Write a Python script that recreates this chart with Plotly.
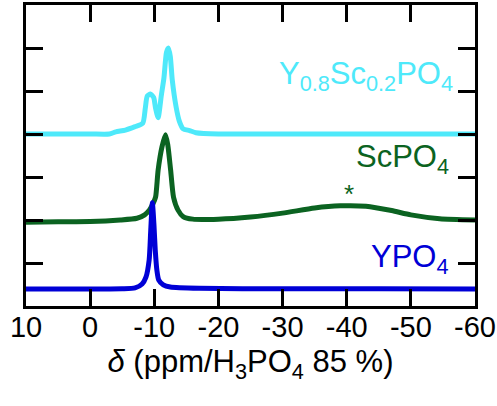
import plotly.graph_objects as go

# ---- data ----
cyan_ppm = [10, 0, -3, -4.0, -5.5, -7.0, -8.2, -8.6, -8.9, -9.4, -9.9, -10.2, -10.6,
            -11.1, -11.5, -11.9, -12.2, -12.5, -12.8, -13.4, -13.9, -14.5, -15.5, -16.5,
            -20, -30, -40, -50, -60]
cyan_val = [4.0, 4.0, 4.0, 4.05, 4.09, 4.17, 4.25, 4.6, 4.88, 4.93, 4.85, 4.6, 4.38,
            4.9, 5.3, 5.9, 6.0, 5.8, 5.26, 4.63, 4.3, 4.12, 4.08, 4.03,
            4.0, 4.0, 4.0, 4.0, 4.0]

green_ppm = [10, 5, 0, -4.7, -7.3, -8.5, -9.25, -9.8, -10.2, -10.6, -11.2, -11.75,
             -12.1, -12.55, -13.0, -13.7, -14.5, -16, -20, -25, -30, -35, -39, -43,
             -47, -50, -54.5, -60]
green_val = [1.95, 1.96, 1.965, 2.0, 2.04, 2.12, 2.23, 2.38, 2.53, 3.16, 3.7, 3.98,
             3.75, 3.16, 2.53, 2.23, 2.08, 2.02, 2.02, 2.07, 2.16, 2.28, 2.33, 2.32,
             2.22, 2.12, 2.03, 2.0]

blue_ppm = [10, 0, -5, -7.0, -8.1, -8.7, -9.2, -9.45, -9.7, -9.95, -10.15, -10.4,
            -10.7, -11.4, -12.5, -17, -30, -45, -60]
blue_val = [0.395, 0.395, 0.40, 0.42, 0.51, 0.67, 1.07, 1.77, 2.4, 1.88, 1.3, 0.84,
            0.6, 0.49, 0.44, 0.41, 0.40, 0.40, 0.395]

labels = ["Y<sub>0.8</sub>Sc<sub>0.2</sub>PO<sub>4</sub>", "ScPO<sub>4</sub>", "YPO<sub>4</sub>"]
colors = ["#4EE9FA", "#0B6321", "#0000D6"]

x_ticks = [10, 0, -10, -20, -30, -40, -50, -60]

fig = go.Figure()
for xs, ys, c in [(cyan_ppm, cyan_val, colors[0]),
                  (green_ppm, green_val, colors[1]),
                  (blue_ppm, blue_val, colors[2])]:
    fig.add_trace(go.Scatter(x=xs, y=ys, mode="lines",
                             line=dict(color=c, width=5, shape="spline", smoothing=0.6),
                             showlegend=False, hoverinfo="skip", cliponaxis=False))

font_family = "Liberation Sans, Arial, sans-serif"

fig.update_layout(
    width=497, height=406,
    margin=dict(l=26, r=22, t=5, b=100),
    paper_bgcolor="white", plot_bgcolor="white",
    font=dict(family=font_family, color="black"),
    xaxis=dict(range=[10, -60], tickvals=x_ticks, ticktext=[str(v) for v in x_ticks],
               ticks="inside", ticklen=17, tickwidth=3, tickcolor="black",
               showline=True, linewidth=3, linecolor="black", mirror="ticks",
               showgrid=False, zeroline=False, automargin=False,
               ticklabelstandoff=-7,
               tickfont=dict(size=29, family=font_family),
               title=dict(text="<i>δ</i> (ppm/H<sub>3</sub>PO<sub>4</sub> 85 %)",
                          font=dict(size=31, family=font_family), standoff=9)),
    yaxis=dict(range=[0, 7], dtick=1, showticklabels=False, automargin=False,
               ticks="inside", ticklen=17, tickwidth=3, tickcolor="black",
               showline=True, linewidth=3, linecolor="black", mirror="ticks",
               showgrid=False, zeroline=False),
)

ann = [
    dict(x=-56.9, y=4.84, text=labels[0], color=colors[0]),
    dict(x=-56.3, y=2.91, text=labels[1], color=colors[1]),
    dict(x=-56.3, y=0.58, text=labels[2], color=colors[2]),
]
for a in ann:
    fig.add_annotation(x=a["x"], y=a["y"], xref="x", yref="y", text=a["text"],
                       showarrow=False, xanchor="right", yanchor="bottom",
                       font=dict(size=31, color=a["color"], family=font_family))
fig.add_annotation(x=-40.3, y=2.6, xref="x", yref="y", text="*", showarrow=False,
                   xanchor="center", yanchor="middle",
                   font=dict(size=26, color=colors[1], family=font_family))

fig.write_html("out.html", config={"displayModeBar": False},
               post_script="document.body.style.margin='0';document.body.style.overflow='hidden';")
